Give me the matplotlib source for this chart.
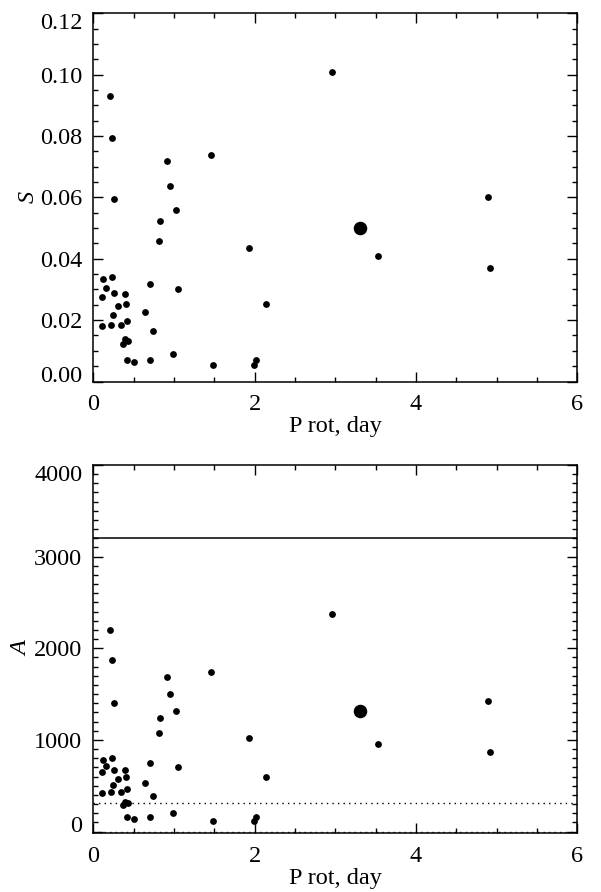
import matplotlib
matplotlib.use('Agg')
import matplotlib.pyplot as plt
from matplotlib.ticker import MultipleLocator

plt.rcParams['font.family'] = ['Liberation Serif', 'DejaVu Serif']

# rotation periods (days) of the small dots
p_rot = [2.961, 0.207, 0.227, 0.918, 1.456, 0.955, 0.261, 4.892, 1.030, 0.827,
         0.815, 1.927, 3.536, 4.921, 0.124, 0.227, 0.153, 0.707, 1.050, 0.103,
         0.252, 0.397, 0.401, 0.306, 2.142, 0.641, 0.240, 0.418, 0.112, 0.215,
         0.343, 0.736, 0.372, 0.397, 0.434, 0.414, 0.505, 0.703, 0.988, 1.481,
         1.993, 2.014]
# spottedness S
s_vals = [0.1009, 0.0931, 0.0793, 0.0718, 0.0738, 0.0636, 0.0595, 0.0602, 0.0559, 0.0524,
          0.0457, 0.0434, 0.0409, 0.0370, 0.0333, 0.0342, 0.0305, 0.0318, 0.0303, 0.0277,
          0.0288, 0.0284, 0.0252, 0.0245, 0.0252, 0.0225, 0.0216, 0.0197, 0.0181, 0.0185,
          0.0185, 0.0166, 0.0123, 0.0139, 0.0132, 0.0070, 0.0062, 0.0070, 0.0089, 0.0055,
          0.0053, 0.0070]
# amplitude A
a_vals = [2377, 2196, 1870, 1692, 1743, 1496, 1402, 1420, 1319, 1236,
          1076, 1022, 960, 870, 783, 804, 717, 746, 710, 649,
          674, 667, 591, 572, 591, 525, 504, 460, 420, 431,
          431, 384, 286, 323, 308, 156, 138, 156, 199, 120,
          112, 156]

# the highlighted star (big dot)
big_p = [3.304]
big_s = [0.050]
big_a = [1312]

s_ticks = [0.00, 0.02, 0.04, 0.06, 0.08, 0.10, 0.12]
a_ticks = [0, 1000, 2000, 3000, 4000]
a_solid = 3200
a_dotted = [310, 0]

fig = plt.figure(figsize=(6.01, 8.92), dpi=100)
ax1 = fig.add_axes([0.1553, 0.5723, 0.805, 0.4128])
ax2 = fig.add_axes([0.1553, 0.0661, 0.805, 0.4126])

for ax in (ax1, ax2):
    ax.set_xlim(0, 6)
    ax.set_xticks([0, 2, 4, 6])
    ax.xaxis.set_minor_locator(MultipleLocator(0.5))
    ax.tick_params(which='both', direction='in', top=True, right=True,
                   labelsize=17.5, width=1.0)
    ax.tick_params(which='major', length=7)
    ax.tick_params(which='minor', length=3.6)
    ax.tick_params(axis='y', pad=8)
    ax.tick_params(axis='x', pad=9)
    for sp in ax.spines.values():
        sp.set_linewidth(1.1)
    ax.set_xlabel('P rot, day', fontsize=17.5, labelpad=1)

# top panel
ax1.scatter(p_rot, s_vals, s=24, color='black', linewidths=0, zorder=3)
ax1.scatter(big_p, big_s, s=95, color='black', linewidths=0, zorder=3)
ax1.set_ylim(0, 0.12)
ax1.set_yticks(s_ticks)
ax1.set_yticklabels(['%.2f' % v for v in s_ticks])
ax1.yaxis.set_minor_locator(MultipleLocator(0.005))
ax1.set_ylabel('S', fontsize=17.5, fontstyle='italic', labelpad=1)

# bottom panel
ax2.scatter(p_rot, a_vals, s=24, color='black', linewidths=0, zorder=3)
ax2.scatter(big_p, big_a, s=95, color='black', linewidths=0, zorder=3)
ax2.axhline(a_solid, color='black', lw=1.1)
for y in a_dotted:
    ax2.axhline(y, color='black', lw=1.0, linestyle=(0, (1, 3)))
ax2.set_ylim(-16, 4000)
ax2.set_yticks(a_ticks)
ax2.yaxis.set_minor_locator(MultipleLocator(100))
ax2.set_ylabel('A', fontsize=17.5, fontstyle='italic', labelpad=1)

# end tick labels sit inside the axis range, as in the original
for ax in (ax1, ax2):
    labs = ax.get_yticklabels()
    labs[0].set_verticalalignment('baseline')
    labs[-1].set_verticalalignment('top')

fig.savefig('out.png', dpi=100)
